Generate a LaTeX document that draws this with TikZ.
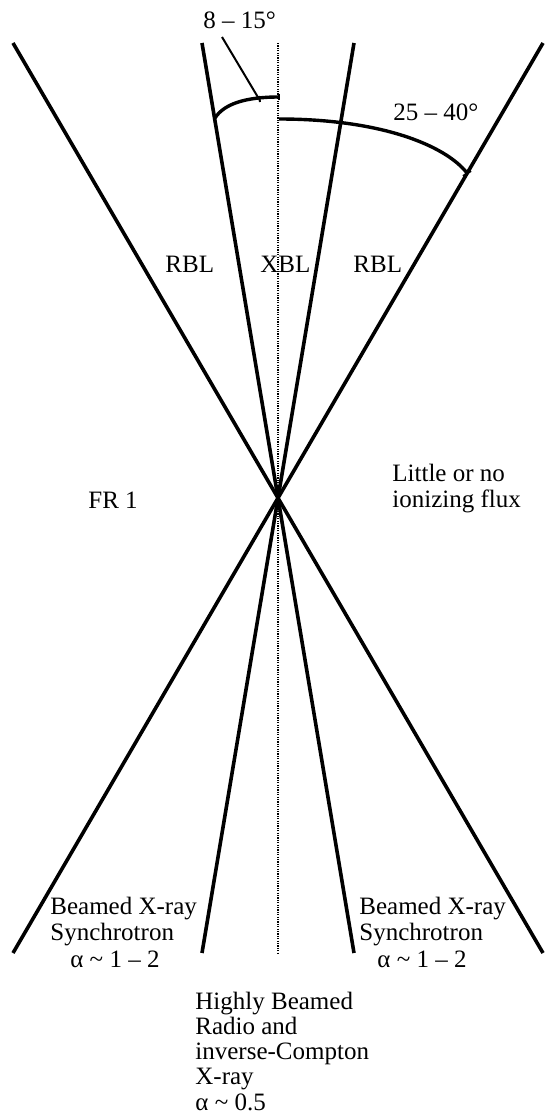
\documentclass[tikz,border=0pt]{standalone}
\usepackage{fontspec}
\setmainfont{Liberation Serif}
\begin{document}
\begin{tikzpicture}[x=0.5pt,y=-0.5pt,
  beam/.style={line width=1.8pt},
  axis/.style={line width=0.8pt, dash pattern=on 0.6pt off 0.6pt},
  anglearc/.style={line width=1.7pt},
  leader/.style={line width=1pt},
  lbl/.style={font=\fontsize{12.5}{12.6}\selectfont, inner sep=0pt, anchor=base west, align=left},
  lblwide/.style={lbl, font=\fontsize{12.5}{13.25}\selectfont}]
\useasboundingbox (0,0) rectangle (545,1113);

% apex of the cones and the ends of the cone edges
\coordinate (O) at (278,498);
\coordinate (otl) at (13,43);   \coordinate (otr) at (543,43);
\coordinate (obl) at (13,953);  \coordinate (obr) at (543,953);
\coordinate (itl) at (202,43);  \coordinate (itr) at (354,43);
\coordinate (ibl) at (202,953); \coordinate (ibr) at (354,953);
\coordinate (axt) at (278,43);  \coordinate (axb) at (278,953);

% jet axis
\draw[axis] (axt) -- (axb);

% cone edges
\draw[beam] (otl) -- (O) -- (obr);
\draw[beam] (otr) -- (O) -- (obl);
\draw[beam] (itl) -- (O) -- (ibr);
\draw[beam] (itr) -- (O) -- (ibl);

% opening-angle arcs
\coordinate (a1s) at (279,97);  \coordinate (a1e) at (215,118);
\coordinate (a2s) at (279,119); \coordinate (a2e) at (467,173);
\draw[anglearc] (a1s) .. controls (245,97) and (224,104) .. (a1e);
\draw[anglearc] (a2s) .. controls (380,119) and (445,145) .. (a2e);
\draw[leader] (a1s) ++(0,-3) -- ++(0,6);
\draw[leader] (a2e) ++(-4,3) -- ++(8,-5);

% angle labels
\node[lbl] (ang1) at (203,29) {8 – 15°};
\node[lbl] (ang2) at (393,120) {25 – 40°};
\coordinate (ld1) at (222,37);
\coordinate (ld2) at (259,99);
\draw[leader] (ld1) -- (ld2);
\draw[leader] (ld2) ++(0,-3) -- ++(1,6);

% region labels (multi-line labels are placed by their last baseline)
\node[lbl] (rblL) at (165,272) {RBL};
\node[lbl] (xbl)  at (260,272) {XBL};
\node[lbl] (rblR) at (353,272) {RBL};
\node[lbl] (fr1)  at (88,508) {FR 1};
\node[lbl] (dark) at (392,507) {Little or no\\ionizing flux};
\node[lblwide] (bxl) at (50,967) {Beamed X-ray\\Synchrotron\\\hspace*{10pt}α \textasciitilde{} 1 – 2};
\node[lblwide] (bxr) at (359,967) {Beamed X-ray\\Synchrotron\\\hspace*{9pt}α \textasciitilde{} 1 – 2};
\node[lbl] (hb) at (195,1110) {Highly Beamed\\Radio and\\inverse-Compton\\X-ray\\α \textasciitilde{} 0.5};
\end{tikzpicture}
\end{document}
